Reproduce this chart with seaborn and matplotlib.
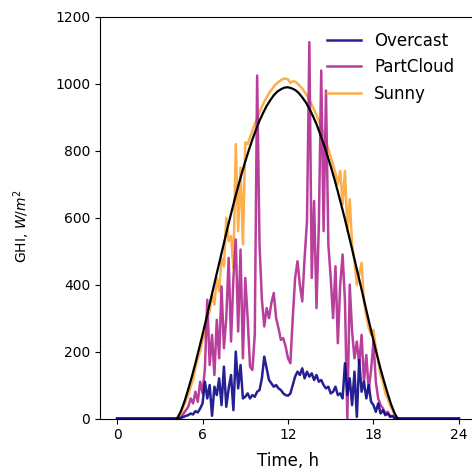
import numpy as np
import pandas as pd
import matplotlib
matplotlib.use("Agg")
import matplotlib.pyplot as plt
import seaborn as sns

# 10-minute samples from 04:00 to 20:00, zero outside that window
day_start = 4.0
step_h = 1.0 / 6.0

overcast = [
    0, 0, 0, 2, 5, 8,
    10, 15, 12, 22, 18, 30,
    45, 110, 60, 100, 8, 95,
    70, 120, 40, 155, 35, 90,
    130, 25, 200, 90, 160, 60,
    65, 75, 60, 70, 65, 80,
    85, 120, 185, 150, 115, 105,
    95, 100, 90, 85, 75, 70,
    68, 75, 100, 125, 140, 130,
    150, 120, 140, 125, 135, 115,
    130, 110, 115, 100, 90, 95,
    75, 80, 95, 70, 75, 60,
    165, 70, 120, 40, 140, 5,
    175, 80, 110, 60, 100, 50,
    40, 20, 45, 15, 25, 10,
    15, 5, 8, 2, 0, 0,
    0,
]

partcloud = [
    0, 0, 0, 5, 15, 25,
    35, 60, 45, 80, 50, 110,
    75, 150, 355, 160, 250, 130,
    295, 180, 395, 210, 300, 480,
    230, 420, 535, 260, 505, 180,
    420, 300, 155, 145, 250, 1025,
    520, 355, 275, 330, 300, 345,
    375, 300, 270, 235, 240, 215,
    180, 165, 300, 420, 470, 400,
    350, 480, 590, 1125, 420, 650,
    330, 580, 1040, 560, 980, 520,
    420, 300, 455, 225, 400, 490,
    350, 0, 400, 260, 180, 230,
    160, 250, 110, 190, 85, 145,
    230, 110, 60, 40, 30, 15,
    20, 8, 5, 0, 0, 0,
    0,
]

sunny = [
    0, 0, 8, 18, 35, 55,
    70, 95, 115, 150, 180, 200,
    235, 250, 300, 320, 370, 340,
    420, 380, 480, 455, 600, 530,
    545, 450, 820, 560, 750, 520,
    825, 820, 840, 860, 880, 898,
    915, 932, 947, 960, 972, 982,
    992, 1000, 1006, 1011, 1015, 1016,
    1014, 1003, 1008, 1007, 1001, 994,
    986, 976, 965, 952, 938, 923,
    907, 889, 870, 850, 828, 805,
    782, 758, 733, 700, 740, 640,
    740, 560, 655, 520, 470, 400,
    430, 465, 350, 305, 270, 250,
    265, 210, 170, 130, 110, 75,
    60, 40, 25, 10, 0, 0,
    0,
]

# clear-sky model, 15-minute samples between sunrise and sunset
sunrise, sunset = 4.2, 19.7
clearsky = [
    0,
    2, 24, 53,
    88, 125, 165, 208,
    251, 296, 342, 388,
    434, 479, 524, 569,
    612, 654, 694, 732,
    768, 802, 834, 863,
    890, 913, 934, 951,
    966, 977, 984, 989,
    990, 987, 982, 973,
    960, 945, 926, 904,
    880, 851, 821, 788,
    754, 717, 678, 637,
    595, 551, 506, 461,
    416, 370, 324, 278,
    233, 190, 148, 110,
    74, 41, 14,
    0,
]

labels = ["Overcast", "PartCloud", "Sunny"]
colors = {"Overcast": "#0d0887", "PartCloud": "#b12a90", "Sunny": "#fca636"}

t_day = day_start + step_h * np.arange(len(sunny))
t_full = np.concatenate(([0.0], t_day, [24.0]))


def full_day(vals):
    return np.concatenate(([0.0], np.asarray(vals, float), [0.0]))


df = pd.DataFrame({
    "Time, h": np.tile(t_full, 3),
    "GHI": np.concatenate([full_day(overcast), full_day(partcloud), full_day(sunny)]),
    "day": np.repeat(labels, len(t_full)),
})

t_cs = np.concatenate(([sunrise], np.arange(4.25, 19.51, 0.25), [sunset]))
cs = pd.DataFrame({"Time, h": t_cs, "GHI": clearsky})

fig = plt.figure(figsize=(4.72, 4.74), dpi=100)
ax = fig.add_axes([100 / 472, 55.5 / 474, 376 / 472, 401.5 / 474])

handles = {}
for name in ["Sunny", "PartCloud", "Overcast"]:
    sub = df[df["day"] == name]
    sns.lineplot(data=sub, x="Time, h", y="GHI", color=colors[name],
                 alpha=0.9, linewidth=1.8, ax=ax, estimator=None)
    handles[name] = ax.lines[-1]

sns.lineplot(data=cs, x="Time, h", y="GHI", color="black", linewidth=1.6,
             ax=ax, estimator=None)

ax.set_xlim(-1.2, 25.2)
ax.set_ylim(0, 1200)
ax.set_xticks([0, 6, 12, 18, 24])
ax.set_yticks(np.arange(0, 1201, 200))
ax.tick_params(labelsize=10)
ax.set_xlabel("Time, h", fontsize=12, labelpad=7)
ax.set_ylabel(r"GHI, $W/m^2$", fontsize=10)
ax.yaxis.set_label_coords(-0.18, 0.48)
ax.legend([handles[n] for n in labels], labels, loc="upper right",
          bbox_to_anchor=(1 - 7 / 376, 1.0), frameon=False, fontsize=12)

fig.savefig("out.png", dpi=100)
